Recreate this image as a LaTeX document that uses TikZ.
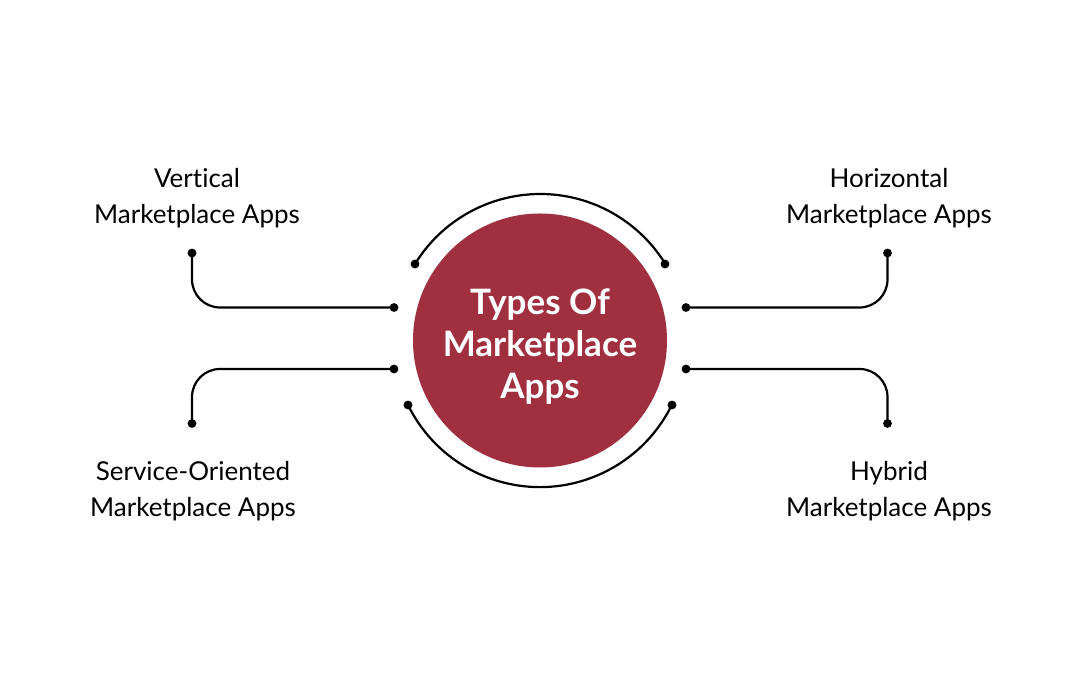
\documentclass[tikz,border=0pt]{standalone}
\usepackage{fontspec}
\setmainfont{Lato}[Ligatures=NoCommon]
\begin{document}
\begin{tikzpicture}[x=1pt,y=1pt,
  dot/.style={circle,fill=black,inner sep=0pt,minimum size=8.8pt},
  wire/.style={draw=black,line width=2.2pt},
  elbow/.style={wire,rounded corners=28pt},
  lbl/.style={align=center,font=\fontsize{26}{36}\selectfont,text=black,inner sep=0pt},
  hub/.style={circle,fill=hubred,minimum size=254pt,inner sep=0pt},
  hubtext/.style={align=center,text=white,inner sep=0pt,font=\fontsize{35}{42}\selectfont\bfseries}]
\definecolor{hubred}{HTML}{A0303F}
\useasboundingbox (0,0) rectangle (1080,682);
\fill[white] (0,0) rectangle (1080,682);
\node[hub] (hub) at (540,341.5) {};
\node[hubtext] (hubt) at (540,335) {Types Of\\Marketplace\\Apps};
% dots (y = 682 - image y)
\node[dot] (ta) at (415,418) {};
\node[dot] (tb) at (665,418) {};
\node[dot] (ba) at (408,277) {};
\node[dot] (bb) at (672,277) {};
\node[dot] (vo) at (192,429) {};
\node[dot] (vi) at (394,374.5) {};
\node[dot] (so) at (192,258.5) {};
\node[dot] (si) at (394,313) {};
\node[dot] (ho) at (887.5,429) {};
\node[dot] (hi) at (686,374.5) {};
\node[dot] (yo) at (887.5,258.5) {};
\node[dot] (yi) at (686,313) {};
% arcs
\draw[wire] (ta.center) arc[start angle=148.4,end angle=31.6,radius=147pt];
\draw[wire] (ba.center) arc[start angle=206.2,end angle=333.8,radius=147pt];
% elbows
\draw[elbow] (vo.center) |- (vi.center);
\draw[elbow] (so.center) |- (si.center);
\draw[elbow] (ho.center) |- (hi.center);
\draw[elbow] (yo.center) |- (yi.center);
% labels
\node[lbl] (lv) at (197,484) {Vertical\\Marketplace Apps};
\node[lbl] (ls) at (193,191) {Service-Oriented\\Marketplace Apps};
\node[lbl] (lh) at (889,484) {Horizontal\\Marketplace Apps};
\node[lbl] (ly) at (889,191) {Hybrid\\Marketplace Apps};
\end{tikzpicture}
\end{document}
